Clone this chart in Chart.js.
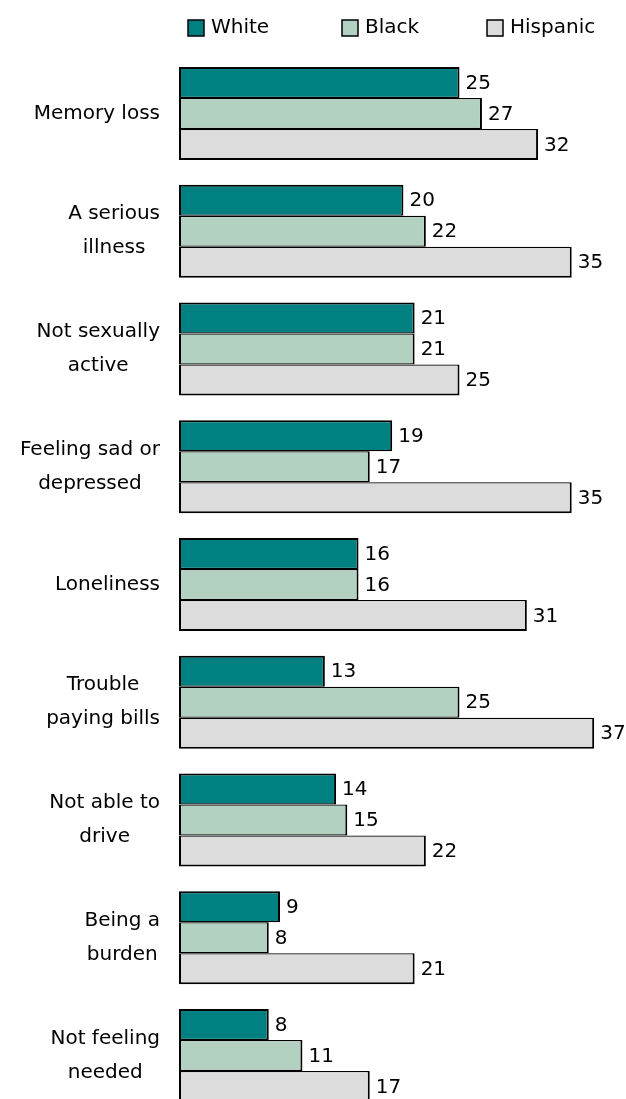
<!DOCTYPE html>
<html>
<head>
<meta charset="utf-8">
<script src="https://cdn.jsdelivr.net/npm/chart.js@4.4.1/dist/chart.umd.min.js"></script>
<style>
    html, body { margin: 0; padding: 0; background: #ffffff; overflow: hidden; }
    #wrap { position: relative; width: 626px; height: 1115px; }
</style>
</head>
<body>
<div id="wrap"><canvas id="chart"></canvas></div>
<script>
// data
const categories = [
    ["Memory loss"],
    ["A serious", "illness"],
    ["Not sexually", "active"],
    ["Feeling sad or", "depressed"],
    ["Loneliness"],
    ["Trouble", "paying bills"],
    ["Not able to", "drive"],
    ["Being a", "burden"],
    ["Not feeling", "needed"]
];
const series_names = ["White", "Black", "Hispanic"];
const white_values = [25, 20, 21, 19, 16, 13, 14, 9, 8];
const black_values = [27, 22, 21, 17, 16, 25, 15, 8, 11];
const hispanic_values = [32, 35, 25, 35, 31, 37, 22, 21, 17];
const x_max = 39;

const series_colors = ["#008080", "#b3d1c0", "#dcdcdc"];
const font_family = "'DejaVu Sans', sans-serif";
const font_size = 20;

// category names drawn to the left of each group, right-aligned block, centred lines
const category_labels = {
    id: 'category_labels',
    afterDraw(chart) {
        const ctx = chart.ctx;
        const yscale = chart.scales.y;
        const right = chart.chartArea.left - 19;
        ctx.save();
        ctx.font = `${font_size}px ${font_family}`;
        ctx.fillStyle = '#000';
        ctx.textAlign = 'center';
        ctx.textBaseline = 'middle';
        categories.forEach((lines, i) => {
            const y = yscale.getPixelForValue(i);
            const block = Math.max(...lines.map(l => ctx.measureText(l).width));
            const cx = right - block / 2;
            lines.forEach((line, j) => {
                ctx.fillText(line, cx, y + (j - (lines.length - 1) / 2) * 34);
            });
        });
        ctx.restore();
    }
};

// numbers at the end of each bar
const value_labels = {
    id: 'value_labels',
    afterDatasetsDraw(chart) {
        const ctx = chart.ctx;
        ctx.save();
        ctx.font = `${font_size}px ${font_family}`;
        ctx.fillStyle = '#000';
        ctx.textAlign = 'left';
        ctx.textBaseline = 'middle';
        chart.data.datasets.forEach((ds, d) => {
            chart.getDatasetMeta(d).data.forEach((bar, i) => {
                ctx.fillText(String(ds.data[i]), bar.x + 6, bar.y + 1);
            });
        });
        ctx.restore();
    }
};

// legend row at the top, fixed columns like the original
const legend_row = {
    id: 'legend_row',
    afterDraw(chart) {
        const ctx = chart.ctx;
        const xs = [188, 342, 487];
        const y = 28;
        ctx.save();
        ctx.font = `${font_size}px ${font_family}`;
        ctx.textBaseline = 'middle';
        ctx.textAlign = 'left';
        chart.data.datasets.forEach((ds, d) => {
            ctx.fillStyle = ds.backgroundColor;
            ctx.fillRect(xs[d], y - 8, 16, 16);
            ctx.strokeStyle = '#000';
            ctx.lineWidth = 1.5;
            ctx.strokeRect(xs[d], y - 8, 16, 16);
            ctx.fillStyle = '#000';
            ctx.fillText(ds.label, xs[d] + 23, y);
        });
        ctx.restore();
    }
};

const border_widths = [
    {top: 2, bottom: 1.2, left: 2, right: 2},
    {top: 1.2, bottom: 1.2, left: 2, right: 2},
    {top: 1.2, bottom: 2, left: 2, right: 2}
];

const all_values = [white_values, black_values, hispanic_values];

new Chart(document.getElementById('chart'), {
    type: 'bar',
    data: {
        labels: categories.map(c => c.join(' ')),
        datasets: series_names.map((name, i) => ({
            label: name,
            data: all_values[i],
            backgroundColor: series_colors[i],
            borderColor: '#000',
            borderWidth: border_widths[i],
            borderSkipped: false,
            barPercentage: 1.0,
            categoryPercentage: 0.79
        }))
    },
    options: {
        indexAxis: 'y',
        responsive: true,
        maintainAspectRatio: false,
        animation: false,
        devicePixelRatio: 1,
        layout: {
            padding: { top: 54.6, bottom: 0.6, left: 0, right: 9.4 }
        },
        scales: {
            x: {
                display: false,
                min: 0,
                max: x_max
            },
            y: {
                ticks: { display: false },
                grid: { display: false },
                border: { display: false },
                afterFit(scale) { scale.width = 179; }
            }
        },
        plugins: {
            legend: { display: false },
            tooltip: { enabled: false }
        }
    },
    plugins: [category_labels, value_labels, legend_row]
});
</script>
</body>
</html>
